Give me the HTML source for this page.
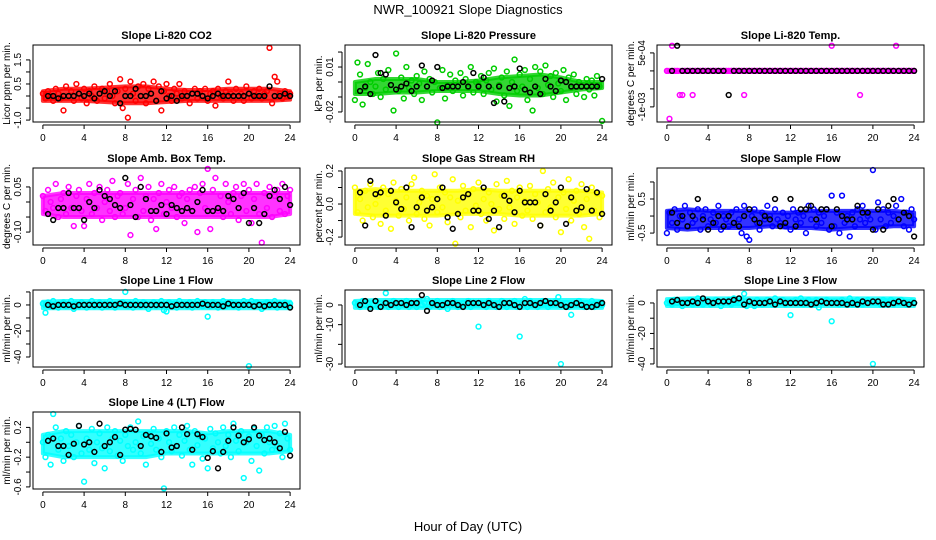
<!DOCTYPE html>
<html><head><meta charset="utf-8"><style>
body{margin:0;background:#fff;}
svg{display:block;font-family:"Liberation Sans",sans-serif;}
</style></head><body>
<svg id="chart" width="936" height="540" viewBox="0 0 936 540" xmlns="http://www.w3.org/2000/svg">
<rect width="936" height="540" fill="#fff"/>
<text x="468" y="14" text-anchor="middle" font-size="13">NWR_100921  Slope Diagnostics</text>
<text x="468" y="531" text-anchor="middle" font-size="13">Hour of Day (UTC)</text>
</svg>
<script>
// ---- data ----
const xTicks=[0,4,8,12,16,20,24];
const bandHours=[0,2,4,6,8,10,12,14,16,18,20,22,24];
const co2Color=[0.1,-0.1,0.2,0.0,-0.2,0.3,0.1,-0.1,-0.6,0.4,0.0,0.2,-0.2,0.5,0.1,-0.1,0.3,-0.3,0.2,0.0,0.4,-0.2,0.1,0.3,-0.1,0.2,0.5,0.0,-0.3,0.2,0.7,-0.5,0.3,-0.9,0.6,0.1,-0.2,0.4,0.0,0.5,-0.3,0.3,0.1,0.6,-0.2,0.4,-0.6,0.2,0.5,0.0,-0.2,0.3,0.1,0.5,-0.1,0.2,0.0,-0.3,0.1,0.3,-0.1,0.2,0.0,0.3,-0.2,0.1,0.2,-0.4,0.3,0.0,-0.1,0.2,0.6,0.1,-0.2,0.3,0.0,0.1,-0.2,0.4,0.1,-0.1,0.2,0.0,0.3,-0.1,0.1,0.2,2.0,-0.3,0.8,0.6,0.1,-0.1,0.2,0.0,0.1];
const co2Black=[0.0,0.0,-0.1,0.0,0.0,0.0,0.1,0.0,0.1,-0.1,0.1,0.2,0.0,0.2,-0.3,0.0,0.0,0.3,0.0,0.0,0.1,-0.2,0.2,-0.1,0.0,-0.2,0.0,0.0,0.1,0.1,0.0,-0.1,0.0,0.1,0.0,0.0,0.0,0.0,0.0,0.1,0.0,0.0,0.0,0.4,0.0,0.0,0.1,0.0];
const co2BandLo=[-0.2,-0.2,-0.2,-0.25,-0.3,-0.3,-0.25,-0.2,-0.2,-0.2,-0.2,-0.2,-0.15];
const co2BandHi=[0.2,0.3,0.3,0.35,0.4,0.4,0.3,0.25,0.25,0.3,0.3,0.3,0.2];
const presColor=[-0.012,0.013,0.005,-0.015,-0.004,0.012,0.0,-0.008,-0.003,0.006,-0.010,0.002,-0.005,0.008,-0.002,-0.019,0.019,-0.006,0.003,-0.011,0.010,-0.004,0.001,-0.008,0.004,-0.001,-0.012,0.007,-0.003,0.002,-0.007,0.000,-0.027,-0.004,0.008,-0.011,-0.002,0.005,-0.006,0.001,-0.003,0.006,-0.009,0.002,-0.004,0.010,-0.007,0.000,-0.002,0.004,-0.008,0.001,0.006,-0.005,0.009,-0.013,-0.002,0.003,-0.009,0.007,-0.016,0.000,0.015,-0.006,0.005,-0.003,0.008,-0.012,0.002,-0.019,0.010,-0.004,0.007,-0.008,0.011,-0.002,0.004,-0.010,0.006,-0.001,-0.006,0.008,-0.012,0.003,-0.004,0.005,-0.008,0.000,-0.003,-0.010,0.002,-0.005,0.001,-0.009,0.004,-0.003,-0.026];
const presBlack=[-0.006,-0.003,-0.008,0.018,0.006,0.005,-0.002,-0.005,-0.003,-0.001,-0.006,-0.003,0.011,-0.003,0.001,0.010,-0.004,-0.003,-0.003,-0.003,0.000,-0.003,0.006,-0.003,0.003,-0.003,-0.014,-0.003,-0.013,-0.004,-0.003,0.009,-0.005,-0.007,-0.003,-0.008,0.002,-0.003,-0.006,0.001,0.000,-0.003,-0.003,-0.003,-0.003,-0.003,-0.003,0.002];
const presBandLo=[-0.008,-0.008,-0.007,-0.007,-0.006,-0.006,-0.006,-0.008,-0.009,-0.009,-0.007,-0.005,-0.004];
const presBandHi=[0.0,0.002,0.002,0.002,0.0,0.0,0.001,0.003,0.004,0.005,0.003,0.0,0.0];
const tempColor=[0,-0.00133,0.0007,0,0,-0.00067,-0.00067,0,0,0,-0.00067,0,0,0,0,0,0,0,0,0,0,0,0,0,0,0,0,0,0,0,-0.00067,0,0,0,0,0,0,0,0,0,0,0,0,0,0,0,0,0,0,0,0,0,0,0,0,0,0,0,0,0,0,0,0,0,0.0007,0,0,0,0,0,0,0,0,0,0,-0.00067,0,0,0,0,0,0,0,0,0,0,0,0,0,0.0007,0,0,0,0,0,0,0];
const tempBlack=[0,0.0007,0,0,0,0,0,0,0,0,0,-0.00067,0,0,0,0,0,0,0,0,0,0,0,0,0,0,0,0,0,0,0,0,0,0,0,0,0,0,0,0,0,0,0,0,0,0,0,0];
const tempBandLo=[-0.00003,-0.00003,-0.00003,-0.00003,-0.00003,-0.00003,-0.00003,-0.00003,-0.00003,-0.00003,-0.00003,-0.00003,-0.00003];
const tempBandHi=[0.00003,0.00003,0.00003,0.00003,0.00003,0.00003,0.00003,0.00003,0.00003,0.00003,0.00003,0.00003,0.00003];
const ambColor=[0.02,-0.03,0.04,0.00,-0.02,0.06,-0.05,0.01,0.03,-0.04,0.05,-0.02,-0.08,0.02,0.04,-0.03,-0.08,0.01,0.06,-0.04,0.03,-0.02,0.05,-0.06,0.00,0.04,-0.03,0.07,-0.05,0.02,0.03,-0.04,-0.02,0.06,-0.11,0.01,0.04,-0.05,0.08,-0.03,0.02,0.05,-0.06,0.01,-0.09,0.03,0.06,-0.04,0.00,0.04,-0.02,0.05,-0.05,0.02,0.03,-0.07,0.01,0.04,-0.03,0.05,-0.10,0.03,0.06,-0.02,0.11,-0.09,0.04,0.08,-0.03,0.02,-0.05,0.06,0.00,-0.04,0.03,0.05,-0.06,0.02,0.06,-0.03,0.04,-0.07,0.01,0.06,-0.04,-0.135,0.03,-0.02,0.05,-0.05,0.02,0.04,-0.03,0.06,-0.04,0.02,0.04];
const ambBlack=[-0.04,-0.06,-0.02,-0.02,0.03,-0.02,-0.02,-0.06,0.00,-0.02,0.04,0.02,0.01,-0.01,-0.02,0.08,-0.01,-0.05,0.05,0.01,-0.03,-0.03,-0.01,-0.04,-0.01,-0.02,-0.03,-0.02,-0.03,0.00,0.04,-0.03,-0.03,-0.02,-0.03,0.02,0.01,-0.02,0.03,-0.07,-0.02,-0.07,-0.04,0.02,0.04,0.01,0.05,-0.01];
const ambBandLo=[-0.04,-0.05,-0.05,-0.05,-0.05,-0.05,-0.05,-0.05,-0.05,-0.05,-0.05,-0.05,-0.04];
const ambBandHi=[0.02,0.03,0.03,0.03,0.03,0.03,0.03,0.03,0.03,0.03,0.03,0.03,0.03];
const rhColor=[0.10,-0.05,0.03,-0.10,0.08,-0.02,0.12,-0.08,0.00,0.05,-0.12,0.10,-0.04,0.06,-0.15,0.13,0.02,-0.07,0.09,-0.03,0.04,-0.10,0.12,0.16,-0.06,0.01,0.08,-0.09,0.05,-0.13,0.03,0.18,-0.05,0.10,-0.02,0.07,-0.11,0.04,0.15,-0.24,0.02,-0.08,0.11,-0.04,0.06,-0.14,0.09,-0.01,0.13,-0.06,0.03,-0.10,0.07,0.00,-0.16,0.12,-0.03,0.05,-0.09,0.14,-0.02,0.08,-0.12,0.04,0.10,-0.07,0.02,-0.04,0.11,-0.09,0.06,0.01,-0.13,0.20,-0.05,0.09,-0.02,0.13,-0.08,0.04,-0.17,0.07,-0.03,0.15,-0.10,0.02,0.08,-0.06,0.12,-0.14,0.03,-0.21,0.10,-0.04,0.06,-0.08,0.05];
const rhBlack=[0.07,-0.13,0.14,0.06,0.07,-0.07,0.08,0.01,-0.03,0.10,-0.14,-0.02,0.04,-0.04,-0.02,0.03,0.10,-0.08,-0.15,-0.06,0.04,0.06,-0.04,-0.04,0.10,-0.09,-0.04,-0.14,0.05,0.02,-0.05,0.08,0.01,0.01,0.01,-0.13,0.06,-0.04,0.01,0.10,-0.12,0.04,-0.04,-0.02,0.09,-0.04,0.07,-0.06];
const rhBandLo=[-0.06,-0.07,-0.07,-0.07,-0.07,-0.06,-0.06,-0.06,-0.07,-0.07,-0.07,-0.07,-0.06];
const rhBandHi=[0.08,0.09,0.08,0.08,0.08,0.08,0.09,0.08,0.08,0.08,0.08,0.08,0.07];
const sampColor=[-0.5,0.1,-0.2,0.2,-0.4,0.0,-0.1,0.3,-0.3,0.1,-0.2,-0.1,0.2,-0.4,0.0,0.2,-0.3,-0.1,0.1,-0.2,0.3,-0.4,0.0,-0.1,-0.3,0.1,-0.2,0.2,-0.1,-0.5,0.3,-0.6,-0.7,0.0,0.2,-0.2,-0.4,0.1,-0.1,0.3,0.0,-0.3,0.2,-0.1,-0.2,0.1,-0.3,0.0,-0.4,0.2,-0.1,0.1,-0.2,0.0,-0.5,0.3,-0.1,0.2,-0.3,0.1,-0.2,0.0,0.2,-0.4,0.6,-0.3,0.1,-0.5,0.6,-0.2,0.0,-0.6,0.1,-0.3,0.2,-0.1,0.3,-0.2,0.0,-0.1,1.35,-0.4,0.4,-0.1,0.2,-0.3,0.1,-0.2,0.0,0.3,-0.1,0.5,-0.3,0.1,-0.4,0.2,-0.1];
const sampBlack=[0.1,-0.2,0.0,-0.3,0.0,0.5,-0.1,-0.4,-0.2,0.0,-0.3,0.0,-0.2,-0.3,0.0,0.2,-0.1,-0.2,0.0,-0.1,0.5,-0.3,-0.2,0.5,-0.3,0.2,0.2,0.3,-0.1,0.2,0.2,-0.3,0.2,0.0,-0.1,-0.1,0.3,0.1,0.1,-0.4,0.2,-0.4,0.3,0.5,-0.1,0.1,0.0,-0.6];
const sampBandLo=[-0.35,-0.4,-0.35,-0.35,-0.35,-0.3,-0.35,-0.35,-0.4,-0.35,-0.35,-0.3,-0.3];
const sampBandHi=[0.15,0.2,0.15,0.15,0.15,0.1,0.1,0.15,0.15,0.15,0.15,0.15,0.1];
const l1Color=[1,-6,2,-1,3,0,-2,1,2,-1,0,3,-3,1,-1,2, 0,-2,1,3,-1,0,2,-2,1,-1,3,0,-2,1,0,2, 10,-1,1,-2,3,0,-1,2,1,-3,0,2,-1,1,3,-4, -5,2,-1,1,-2,3,0,1,-1,2,-2,0,3,1,-1,2, -9,-1,2,0,-2,1,3,-1,0,2,-1,1,-2,0,3,1, -47,3,-1,2,0,-3,1,2,-1,0,3,-2,1,0,2,-1,1];
const l1Black=[0,-1,0,0,0,-1,0,0,0,0,0,0,0,0,1,0,0,0,0,0,0,0,0,0,-1,0,0,0,0,0,1,0,0,0,-1,1,0,0,0,0,-1,0,-1,0,0,0,0,-2];
const l1BandLo=[-2.5,-2.5,-2.5,-2.5,-2.5,-2.5,-2.5,-2.5,-2.5,-2.5,-2.5,-2.5,-2.5];
const l1BandHi=[2.5,3,3,3,3,3,3,3,3,3,3,3,2.5];
const l2Color=[1,0,-1,2,0,1,-1,0,2,-1,1,0,6,-1,1,2, 0,-1,1,0,2,-1,0,1,-1,2,0,1,3,-1,0,1, 2,-1,0,1,-2,0,2,1,-1,0,1,0,2,-1,0,1, -11,1,0,-1,2,1,0,-1,1,2,0,-1,1,0,2,-1, -16,1,3,-1,2,0,1,-1,0,2,1,-1,0,1,2,4, -30,0,1,-1,-5,0,1,2,0,-1,1,0,2,-1,0,1,0];
const l2Black=[0,2,-2,2,-1,1,0,1,1,0,1,1,5,-3,1,0,0,1,1,0,-1,1,1,1,0,1,0,-1,1,1,0,-1,1,1,0,1,2,1,1,0,-1,0,1,0,-1,-1,0,1];
const l2BandLo=[-1.5,-1.5,-1.5,-1.5,-1.5,-1.5,-1.5,-1.5,-1.5,-1.5,-1.5,-1.5,-1.5];
const l2BandHi=[2,2.5,2.5,2.5,2.5,2.5,2.5,2.5,2.5,2.5,2.5,2.5,2];
const l3Color=[0,1,-1,2,0,1,-2,1,0,2,-1,1,3,0,-1,2, 1,-1,0,2,1,-2,0,1,2,-1,3,1,0,2,6,-2, 1,0,-2,2,1,-1,0,2,1,-1,3,0,1,2,-1,0, -8,1,2,0,3,-1,1,2,0,-1,2,-3,1,0,2,1, -12,1,0,-1,2,0,1,3,-1,0,2,1,-1,0,2,1, -40,0,1,-1,2,1,0,2,-1,1,0,2,1,-1,0,1,0];
const l3Black=[1,2,0,0,1,0,3,1,0,1,1,1,2,3,-1,1,0,0,0,1,-1,1,0,0,0,0,0,-1,0,1,0,0,0,0,-1,0,-1,1,0,1,1,-1,-1,0,1,0,-1,0];
const l3BandLo=[-2,-2,-2,-2,-2,-2,-2,-2,-2,-2,-2,-2,-2];
const l3BandHi=[2.5,3,3,3,3,3,3,3,3,3,3,3,2.5];
const l4Color=[0.0,-0.2,0.1,-0.3,0.38,0.2,-0.1,0.05,-0.25,0.15,-0.05,0.1,-0.2,0.0,0.22,-0.15,-0.53,0.05,-0.1,0.18,-0.28,0.0,0.12,-0.08,-0.35,0.2,-0.12,0.05,0.15,-0.18,0.02,-0.25,0.1,-0.05,0.2,-0.1,0.0,0.28,-0.15,0.08,-0.3,0.12,-0.02,0.18,-0.1,0.05,-0.2,-0.62,0.15,0.0,-0.12,0.2,-0.05,0.1,-0.18,0.02,0.22,-0.1,-0.3,0.15,-0.04,0.08,-0.22,0.05,-0.35,0.18,-0.08,0.12,0.0,-0.15,0.2,-0.05,0.1,-0.2,0.25,0.02,-0.12,0.15,-0.48,0.0,0.08,-0.25,0.18,-0.05,-0.38,0.1,-0.15,0.2,0.0,-0.1,0.22,-0.05,0.12,-0.2,0.25,0.05,-0.1];
const l4Black=[0.02,0.05,-0.05,-0.05,-0.17,-0.02,0.22,-0.03,0.0,-0.13,0.25,-0.05,0.0,0.07,-0.17,0.17,0.18,0.17,-0.05,0.1,0.08,0.06,-0.13,0.12,-0.07,-0.05,0.2,0.11,-0.1,0.11,0.07,-0.21,-0.12,-0.35,-0.13,0.02,0.2,0.09,0.0,0.04,0.2,0.09,0.03,0.05,0.0,-0.08,0.14,-0.18];
const l4BandLo=[-0.15,-0.2,-0.2,-0.2,-0.2,-0.2,-0.15,-0.15,-0.15,-0.15,-0.15,-0.15,-0.12];
const l4BandHi=[0.1,0.15,0.15,0.15,0.15,0.15,0.15,0.15,0.12,0.15,0.15,0.15,0.1];

const co2Ticks=[-1,-0.5,0,0.5,1,1.5], co2Labels=["-1.0","","","0.5","","1.5"];
const presTicks=[-0.02,-0.01,0,0.01,0.02], presLabels=["-0.02","","","0.01",""];
const tempTicks=[-0.001,-0.0005,0,0.0005], tempLabels=["-1e-03","","","5e-04"];
const ambTicks=[-0.10,-0.05,0,0.05], ambLabels=["-0.10","","","0.05"];
const rhTicks=[-0.2,-0.1,0,0.1,0.2], rhLabels=["-0.2","","0.0","","0.2"];
const sampTicks=[-0.5,0,0.5,1.0], sampLabels=["-0.5","","0.5",""];
const l1Ticks=[-40,-30,-20,-10,0,10], l1Labels=["-40","","-20","","0",""];
const l2Ticks=[-30,-20,-10,0], l2Labels=["-30","","-10","0"];
const l3Ticks=[-40,-30,-20,-10,0], l3Labels=["-40","","-20","","0"];
const l4Ticks=[-0.6,-0.4,-0.2,0,0.2], l4Labels=["-0.6","","-0.2","","0.2"];

const panels=[
 {name:"co2",title:"Slope Li-820 CO2",ylab:"Licor ppm per min.",col:"#ff0000",c:co2Color,b:co2Black,lo:co2BandLo,hi:co2BandHi,t:co2Ticks,l:co2Labels,y0:-1.08,y1:2.12,x:33,y:45},
 {name:"pressure",title:"Slope Li-820 Pressure",ylab:"kPa per min.",col:"#00cd00",c:presColor,b:presBlack,lo:presBandLo,hi:presBandHi,t:presTicks,l:presLabels,y0:-0.0267,y1:0.0247,x:345,y:45},
 {name:"li820-temp",title:"Slope Li-820 Temp.",ylab:"degrees C per min.",col:"#ff00ff",c:tempColor,b:tempBlack,lo:tempBandLo,hi:tempBandHi,t:tempTicks,l:tempLabels,y0:-0.00142,y1:0.00072,x:657,y:45},
 {name:"amb-box-temp",title:"Slope Amb. Box Temp.",ylab:"degrees C per min.",col:"#ff00ff",c:ambColor,b:ambBlack,lo:ambBandLo,hi:ambBandHi,t:ambTicks,l:ambLabels,y0:-0.143,y1:0.113,x:33,y:168},
 {name:"gas-stream-rh",title:"Slope Gas Stream RH",ylab:"percent per min.",col:"#ffff00",c:rhColor,b:rhBlack,lo:rhBandLo,hi:rhBandHi,t:rhTicks,l:rhLabels,y0:-0.248,y1:0.218,x:345,y:168},
 {name:"sample-flow",title:"Slope Sample Flow",ylab:"ml/min per min.",col:"#0000ff",c:sampColor,b:sampBlack,lo:sampBandLo,hi:sampBandHi,t:sampTicks,l:sampLabels,y0:-0.85,y1:1.41,x:657,y:168},
 {name:"line1-flow",title:"Slope Line 1 Flow",ylab:"ml/min per min.",col:"#00ffff",c:l1Color,b:l1Black,lo:l1BandLo,hi:l1BandHi,t:l1Ticks,l:l1Labels,y0:-47.7,y1:11.5,x:33,y:290},
 {name:"line2-flow",title:"Slope Line 2 Flow",ylab:"ml/min per min.",col:"#00ffff",c:l2Color,b:l2Black,lo:l2BandLo,hi:l2BandHi,t:l2Ticks,l:l2Labels,y0:-31.5,y1:7.6,x:345,y:290},
 {name:"line3-flow",title:"Slope Line 3 Flow",ylab:"ml/min per min.",col:"#00ffff",c:l3Color,b:l3Black,lo:l3BandLo,hi:l3BandHi,t:l3Ticks,l:l3Labels,y0:-42,y1:8.5,x:657,y:290},
 {name:"line4-flow",title:"Slope Line 4 (LT) Flow",ylab:"ml/min per min.",col:"#00ffff",c:l4Color,b:l4Black,lo:l4BandLo,hi:l4BandHi,t:l4Ticks,l:l4Labels,y0:-0.628,y1:0.407,x:33,y:412}
];
const W=267,H=77;
const svg=document.getElementById('chart');
const NS="http://www.w3.org/2000/svg";
function mk(tag,attrs,parent){const e=document.createElementNS(NS,tag);for(const k in attrs)e.setAttribute(k,attrs[k]);parent.appendChild(e);return e;}
panels.forEach(p=>{
 const g=mk('g',{},svg);
 
 
 const xs=h=>p.x+(h+0.96)/25.92*W;
 const ys=v=>p.y+H-(v-p.y0)/(p.y1-p.y0)*H;
 const tt=mk('text',{x:p.x+W/2,y:p.y-6,'text-anchor':'middle','font-size':'11','font-weight':'bold'},g);
 tt.textContent=p.title;
 
 
 // dense core band
 let d='';
 bandHours.forEach((h,i)=>{d+=(i?'L':'M')+xs(h)+' '+ys(p.hi[i]);});
 for(let i=bandHours.length-1;i>=0;i--)d+='L'+xs(bandHours[i])+' '+ys(p.lo[i]);
 const band=mk('path',{d:d+'Z',fill:p.col,'fill-opacity':'0.8',stroke:p.col,'stroke-width':'4','stroke-linejoin':'round','stroke-opacity':'0.8'},g);
 
 
 // points
 const pts=mk('g',{fill:'none','stroke-width':'1.5'},g);
 
 
 const n=p.c.length;
 p.c.forEach((v,i)=>{const c=mk('circle',{cx:xs(i*24/(n-1)),cy:ys(v),r:2.4,stroke:p.col},pts);
  
  });
 p.b.forEach((v,i)=>{const c=mk('circle',{cx:xs((i+1)*0.5),cy:ys(v),r:2.4,stroke:'#000'},pts);
  
  });
 const box=mk('rect',{x:p.x,y:p.y,width:W,height:H,fill:'none',stroke:'#000','stroke-width':'1'},g);
 
 
 // x axis
 const xa=mk('g',{stroke:'#000','stroke-width':'1'},g);
 
 
 const by=p.y+H+3;
 mk('line',{x1:xs(xTicks[0]),x2:xs(xTicks[xTicks.length-1]),y1:by,y2:by},xa);
 xTicks.forEach(t=>{mk('line',{x1:xs(t),x2:xs(t),y1:by,y2:by+4},xa);
  const tx=mk('text',{x:xs(t),y:by+16,'text-anchor':'middle','font-size':'10',stroke:'none'},xa);tx.textContent=t;
  
  });
 // y axis
 const ya=mk('g',{stroke:'#000','stroke-width':'1'},g);
 
 
 const ax=p.x-3;
 mk('line',{x1:ax,x2:ax,y1:ys(p.t[0]),y2:ys(p.t[p.t.length-1])},ya);
 p.t.forEach((t,i)=>{mk('line',{x1:ax-4,x2:ax,y1:ys(t),y2:ys(t)},ya);
  if(p.l[i]){const X=ax-9,Y=ys(t);const tx=mk('text',{x:X,y:Y,'text-anchor':'middle','font-size':'10',stroke:'none',transform:`rotate(-90 ${X} ${Y})`},ya);tx.textContent=p.l[i];
   
   }});
 const LX=p.x-23,LY=p.y+H/2;
 const yl=mk('text',{x:LX,y:LY,'text-anchor':'middle','font-size':'10',transform:`rotate(-90 ${LX} ${LY})`},g);
 yl.textContent=p.ylab;
 
 
});
</script>
</body></html>
